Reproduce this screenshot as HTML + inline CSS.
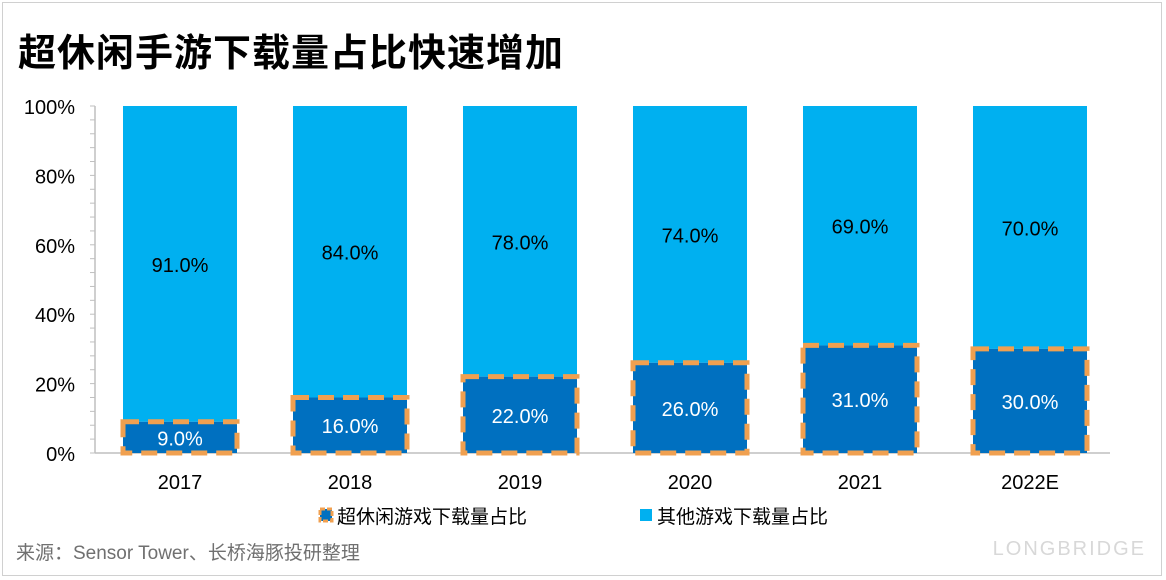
<!DOCTYPE html>
<html><head><meta charset="utf-8">
<style>
html,body{margin:0;padding:0;background:#fff;}
body{width:1166px;height:580px;overflow:hidden;position:relative;font-family:"Liberation Sans","Noto Sans CJK SC",sans-serif;}
#frame{position:absolute;left:2px;top:2px;width:1160px;height:574px;border:1px solid #d0d0d0;box-sizing:border-box;}
#title{position:absolute;left:18px;top:30px;font-size:38px;font-weight:bold;color:#000;letter-spacing:1px;line-height:48px;}
#src{position:absolute;left:16px;top:538px;font-size:19px;color:#707070;}
#wm{position:absolute;right:20px;top:538px;font-size:20px;color:#d8d8d8;letter-spacing:2px;}
</style></head><body>
<div id="frame"></div>
<div id="title">超休闲手游下载量占比快速增加</div>
<svg id="chart" width="1166" height="580" style="position:absolute;left:0;top:0"></svg>
<div id="src">来源：Sensor Tower、长桥海豚投研整理</div>
<div id="wm">LONGBRIDGE</div>
<script>
const categories=["2017","2018","2019","2020","2021","2022E"];
const hyperCasual=[9,16,22,26,31,30];
const otherGames=[91,84,78,74,69,70];
const yTicks=[0,20,40,60,80,100];
const seriesNames=["超休闲游戏下载量占比","其他游戏下载量占比"];
const NS="http://www.w3.org/2000/svg";
const svg=document.getElementById('chart');
const x0=95,x1=1110,yTop=106,yBot=453,step=170,bw=114,firstC=180;
const y=v=>yBot-(v/100)*(yBot-yTop);
const xc=i=>firstC+i*step;
function mk(tag,attrs,parent){const e=document.createElementNS(NS,tag);for(const k in attrs)e.setAttribute(k,attrs[k]);(parent||svg).appendChild(e);return e;}
const font='"Liberation Sans","Noto Sans CJK SC",sans-serif';
let ax=mk('line',{x1:x0,y1:yTop,x2:x0,y2:yBot,stroke:'#bfbfbf','stroke-width':1.5});


for(let v=0;v<=100;v+=4){mk('line',{x1:x0-5,y1:y(v),x2:x0,y2:y(v),stroke:'#bfbfbf','stroke-width':1});}
yTicks.forEach(v=>{const t=mk('text',{x:x0-20,y:y(v)+8,'text-anchor':'end','font-size':20,'font-family':font,fill:'#000'});t.textContent=v+'%';

});
let xa=mk('line',{x1:x0,y1:yBot,x2:x1,y2:yBot,stroke:'#bfbfbf','stroke-width':1.5});


categories.forEach((c,i)=>{
  const cx=xc(i),left=cx-bw/2;
  const h=hyperCasual[i],o=otherGames[i];
  const top=mk('rect',{x:left,y:y(h+o),width:bw,height:y(h)-y(h+o),fill:'#00b0f0'});
  
  
  const bot=mk('rect',{x:left,y:y(h),width:bw,height:yBot-y(h),fill:'#0070c0',stroke:'#f0a050','stroke-width':5,'stroke-dasharray':'16,9'});
  
  
  const t1=mk('text',{x:cx,y:(y(h+o)+y(h))/2+8,'text-anchor':'middle','font-size':20,'font-family':font,fill:'#000','font-weight':'500'});
  t1.textContent=o.toFixed(1)+'%';
  
  
  const t2=mk('text',{x:cx,y:(y(h)+yBot)/2+8,'text-anchor':'middle','font-size':20,'font-family':font,fill:'#fff','font-weight':'500'});
  t2.textContent=h.toFixed(1)+'%';
  
  
  const xl=mk('text',{x:cx,y:489,'text-anchor':'middle','font-size':20,'font-family':font,fill:'#000'});
  xl.textContent=c;
  
  
});
const lg=[{x:320,fill:'#0070c0',stroke:'#f0a050'},{x:640,fill:'#00b0f0',stroke:'none'}];
lg.forEach((l,i)=>{
  const r=mk('rect',{x:l.x,y:509,width:12,height:12,fill:l.fill,stroke:l.stroke,'stroke-width':3,'stroke-dasharray':'5,2'});
  
  
  const t=mk('text',{x:l.x+17,y:523,'font-size':19,'font-family':font,fill:'#000'});
  t.textContent=seriesNames[i];
  
  
});
</script>
</body></html>
